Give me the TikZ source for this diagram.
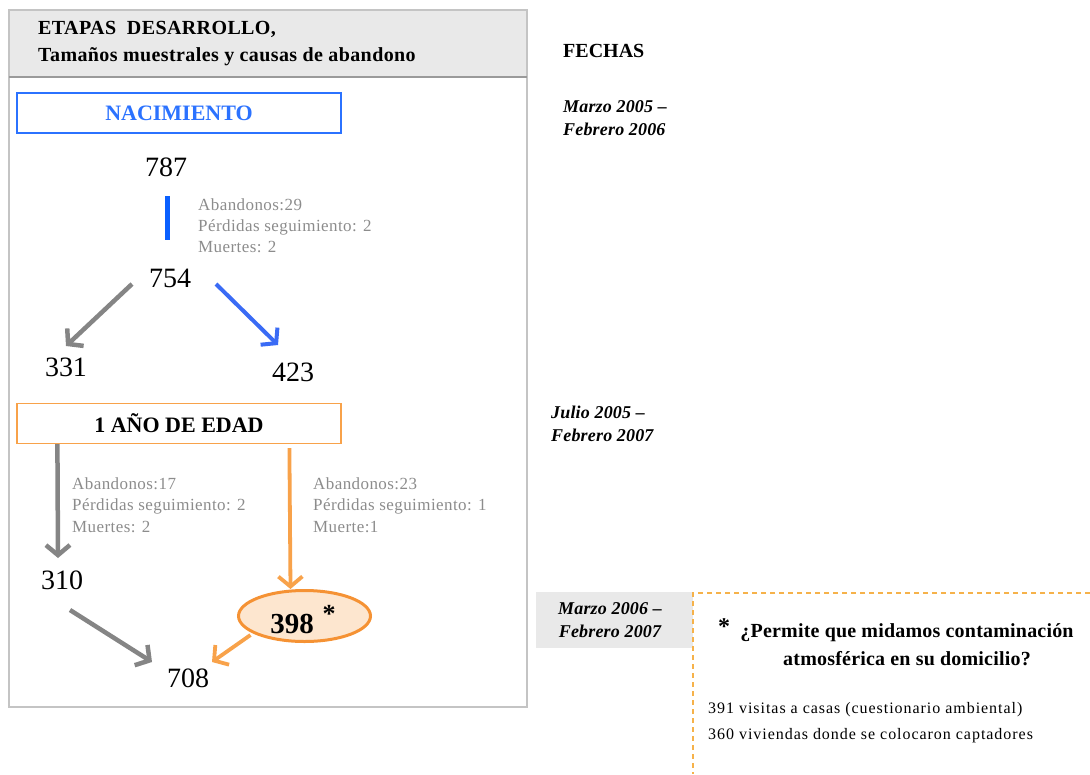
\documentclass[tikz,border=0pt]{standalone}
\usepackage{fontspec}
\setmainfont{Liberation Serif}
\usetikzlibrary{arrows.meta,shapes.geometric,calc}

\definecolor{framegray}{HTML}{C4C4C4}
\definecolor{headfill}{HTML}{E9E9E9}
\definecolor{headline}{HTML}{9A9A9A}
\definecolor{nblue}{HTML}{2B72FF}
\definecolor{barblue}{HTML}{0A60FF}
\definecolor{arrblue}{HTML}{3A6BF5}
\definecolor{arrgray}{HTML}{858585}
\definecolor{notegray}{HTML}{8C8C8C}
\definecolor{orng}{HTML}{F8A24A}
\definecolor{ellfill}{HTML}{FDE6CF}
\definecolor{ellline}{HTML}{F59234}
\definecolor{dashorange}{HTML}{F6B24A}

\tikzset{
  num/.style={font=\fontsize{28}{30}\selectfont, inner sep=0pt},
  note/.style={font=\fontsize{17}{21.5}\selectfont\addfontfeatures{LetterSpace=2.5},
               text=notegray, align=left, anchor=north west, inner sep=0pt},
  datetext/.style={font=\fontsize{18}{23}\selectfont\bfseries\itshape\addfontfeatures{LetterSpace=1},
               align=left, anchor=north west, inner sep=0pt},
  stagebox/.style={draw, line width=1.2pt, minimum width=324pt, minimum height=40pt,
               inner sep=0pt, font=\fontsize{22}{24}\selectfont\bfseries},
  conn/.style={line width=4.5pt, -{Straight Barb[length=10pt,width=24pt]}},
  grayconn/.style={conn, draw=arrgray},
  blueconn/.style={conn, draw=arrblue, line width=4pt},
  orangeconn/.style={conn, draw=orng, line width=3.8pt},
}

\begin{document}
\begin{tikzpicture}[x=1pt, y=-1pt]
\useasboundingbox (0,0) rectangle (1090,774);

% left panel: frame and header band
\fill[headfill] (9,10) rectangle (527,77);
\draw[framegray, line width=1.2pt] (9,10) rectangle (527,707);
\draw[headline, line width=1.5pt] (9,77) -- (527,77);
\node[anchor=north west, inner sep=0pt, align=left,
      font=\fontsize{20}{27}\selectfont\bfseries\addfontfeatures{LetterSpace=2}] (head) at (38,21.5)
  {ETAPAS\ \ DESARROLLO,\\Tamaños\ muestrales y causas de abandono};

% birth stage
\node[stagebox, draw=nblue, text=nblue] (birth) at (179,113) {NACIMIENTO};
\node[num] (n787) at (166,167) {787};
\node[num] (n754) at (170,278) {754};
\draw[barblue, line width=5pt] ($(n787)+(1,29)$) -- ($(n754)+(-3,-38)$);
\node[note] (note1) at (198,198) {Abandonos:29\\Pérdidas seguimiento: 2\\Muertes: 2};

\node[num] (n331) at (66,367) {331};
\node[num] (n423) at (293,372) {423};
\draw[grayconn] ($(n754)+(-38,6)$) -- ($(n331)+(0,-21)$);
\draw[blueconn] ($(n754)+(46,6)$) -- ($(n423)+(-15,-27)$);

% one-year stage
\node[stagebox, draw=orng] (year) at (179,423.5) {1 AÑO DE EDAD};
\node[num] (n310) at (62,580) {310};
\node[draw=ellline, fill=ellfill, line width=3pt, ellipse,
      minimum width=132pt, minimum height=51pt, inner sep=0pt] (n398) at (304.5,616) {};
\node[num, font=\fontsize{29}{30}\selectfont\bfseries] (t398) at (292,624) {398};
\node[inner sep=0pt, font=\fontsize{26}{26}\selectfont\bfseries] (ast398) at (329,614) {*};
\node[num] (n708) at (188,678) {708};

\draw[grayconn] ($(year.south west)+(41,0)$) -- ($(n310)+(-4,-22)$);
\draw[orangeconn] ($(year.south west)+(273,4)$) -- ($(n398.north)+(-14,0)$);
\node[note] (note2) at (72,477) {Abandonos:17\\Pérdidas seguimiento: 2\\Muertes: 2};
\node[note] (note3) at (313,477) {Abandonos:23\\Pérdidas seguimiento: 1\\Muerte:1};

\draw[grayconn] ($(n310)+(8,30)$) -- ($(n708)+(-36,-16)$);
\draw[orangeconn] ($(n398)+(-54,19)$) -- ($(n708)+(24,-16)$);

% dates column
\node[anchor=base west, inner sep=0pt, font=\fontsize{20}{22}\selectfont\bfseries]
  (fechas) at (563,57) {FECHAS};
\node[datetext] (d1) at (563,100) {Marzo 2005 –\\Febrero 2006};
\node[datetext] (d2) at (551,406) {Julio 2005 –\\Febrero 2007};
\fill[headfill] (536,592) rectangle (693,648);
\node[datetext, anchor=center, align=center] (d3) at (610,620) {Marzo 2006 –\\Febrero 2007};

% note on the starred group
\draw[dashorange, line width=1.5pt, dash pattern=on 5pt off 4pt] (1090,593) -- (693,593) -- (693,774);
\node[inner sep=0pt, font=\fontsize{24}{24}\selectfont\bfseries] (ast) at (724,627) {*};
\node[inner sep=0pt, align=center,
      font=\fontsize{20}{28}\selectfont\bfseries\addfontfeatures{LetterSpace=1}]
  (question) at (907,645) {¿Permite que midamos contaminación\\atmosférica en su domicilio?};
\node[inner sep=0pt, anchor=north west, align=left,
      font=\fontsize{16}{26}\selectfont\addfontfeatures{LetterSpace=6}]
  (visits) at (708,702) {391 visitas a casas (cuestionario ambiental)\\360 viviendas donde se colocaron captadores};
\end{tikzpicture}
\end{document}
